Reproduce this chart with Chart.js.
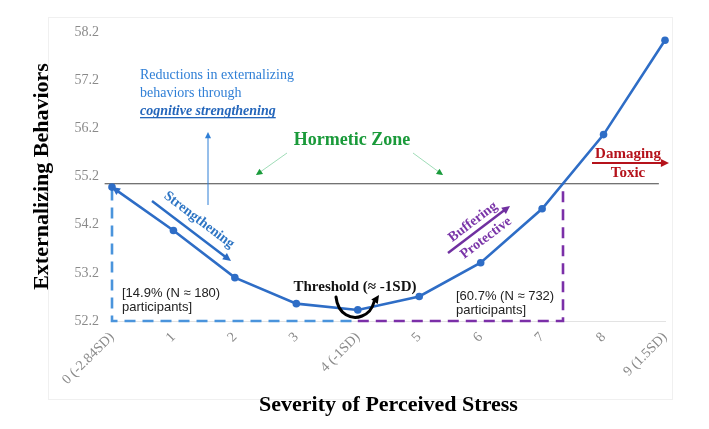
<!DOCTYPE html>
<html>
<head>
<meta charset="utf-8">
<script src="https://cdn.jsdelivr.net/npm/chart.js@4.4.1/dist/chart.umd.min.js"></script>
<style>
  html, body { margin: 0; padding: 0; background: #fff; }
  #wrap { width: 709px; height: 429px; position: relative; }
</style>
</head>
<body>
<div id="wrap"><canvas id="chart" width="709" height="429"></canvas></div>
<script>
// data
const xLabels = ["0 (-2.84SD)", "1", "2", "3", "4 (-1SD)", "5", "6", "7", "8", "9 (1.5SD)"];
const stressLevels = [0, 1, 2, 3, 4, 5, 6, 7, 8, 9];
const externalizing = [54.98, 54.08, 53.10, 52.56, 52.43, 52.71, 53.41, 54.53, 56.07, 58.03];
const yTicks = [52.2, 53.2, 54.2, 55.2, 56.2, 57.2, 58.2];

const hormeticLevel = 55.05;   // horizontal reference line
const hormeticLine = [-0.12, 8.9];
const thresholdX = 4;
const upperEdgeX = 7.34;

const SERIF = "'Liberation Serif', 'Times New Roman', serif";
const SANS = "'Liberation Sans', Arial, sans-serif";

function arrow(ctx, x1, y1, x2, y2, color, width, head) {
  const a = Math.atan2(y2 - y1, x2 - x1);
  ctx.save();
  ctx.strokeStyle = color;
  ctx.fillStyle = color;
  ctx.lineWidth = width;
  ctx.beginPath();
  ctx.moveTo(x1, y1);
  ctx.lineTo(x2 - Math.cos(a) * head * 0.8, y2 - Math.sin(a) * head * 0.8);
  ctx.stroke();
  ctx.beginPath();
  ctx.moveTo(x2, y2);
  ctx.lineTo(x2 - head * Math.cos(a - 0.45), y2 - head * Math.sin(a - 0.45));
  ctx.lineTo(x2 - head * Math.cos(a + 0.45), y2 - head * Math.sin(a + 0.45));
  ctx.closePath();
  ctx.fill();
  ctx.restore();
}

function rotText(ctx, txt, x, y, angle, font, color) {
  ctx.save();
  ctx.translate(x, y);
  ctx.rotate(angle);
  ctx.font = font;
  ctx.fillStyle = color;
  ctx.textAlign = "center";
  ctx.textBaseline = "middle";
  ctx.fillText(txt, 0, 0);
  ctx.restore();
}

const annotations = {
  id: "annotations",
  beforeDraw(chart) {
    const ctx = chart.ctx;
    ctx.save();
    ctx.strokeStyle = "#f0f0f0";
    ctx.lineWidth = 1;
    ctx.strokeRect(48.5, 17.5, 624, 382);
    ctx.restore();
  },
  afterDatasetsDraw(chart) {
    const ctx = chart.ctx;
    const xs = chart.scales.x, ys = chart.scales.y;

    // arrow head on first point
    const p0x = xs.getPixelForValue(stressLevels[0]), p0y = ys.getPixelForValue(externalizing[0]);
    const p1x = xs.getPixelForValue(stressLevels[1]), p1y = ys.getPixelForValue(externalizing[1]);
    arrow(ctx, p1x, p1y, p0x, p0y, "#2e6dc6", 0.1, 9);

    // reductions text
    ctx.save();
    ctx.fillStyle = "#2f7fd6";
    ctx.textBaseline = "alphabetic";
    ctx.font = "14px " + SERIF;
    ctx.fillText("Reductions in externalizing", 140, 79);
    ctx.fillText("behaviors through", 140, 97);
    ctx.fillStyle = "#2466bb";
    ctx.font = "italic bold 14px " + SERIF;
    ctx.fillText("cognitive strengthening", 140, 115);
    const w = ctx.measureText("cognitive strengthening").width;
    ctx.fillRect(140, 117, w, 1.3);
    ctx.restore();
    arrow(ctx, 208, 205, 208, 132, "#2f7fd6", 1, 7);

    // hormetic zone
    ctx.save();
    ctx.fillStyle = "#1a9a3a";
    ctx.font = "bold 18px " + SERIF;
    ctx.textAlign = "center";
    ctx.textBaseline = "middle";
    ctx.fillText("Hormetic Zone", 352, 140);
    ctx.restore();
    arrow(ctx, 287, 153, 256, 175, "#86d3a4", 0.8, 7);
    arrow(ctx, 413, 153, 443, 175, "#86d3a4", 0.8, 7);
    // heads in darker green
    arrow(ctx, 262, 171, 256, 175, "#1a9a3a", 0.1, 7);
    arrow(ctx, 437, 171, 443, 175, "#1a9a3a", 0.1, 7);

    // damaging / toxic
    ctx.save();
    ctx.fillStyle = "#b5121b";
    ctx.font = "bold 15px " + SERIF;
    ctx.textAlign = "center";
    ctx.textBaseline = "middle";
    ctx.fillText("Damaging", 628, 154);
    ctx.fillText("Toxic", 628, 173);
    ctx.restore();
    arrow(ctx, 592, 163, 669, 163, "#b5121b", 2.2, 9);

    // strengthening
    const aS = Math.atan2(60, 79);
    arrow(ctx, 152, 201, 231, 261, "#2b6cc4", 2.5, 9);
    rotText(ctx, "Strengthening", 199, 220, aS, "bold 14px " + SERIF, "#2e75c4");

    // buffering / protective
    const aB = Math.atan2(-47, 62);
    arrow(ctx, 448, 253, 510, 206, "#7030a0", 2.5, 9);
    rotText(ctx, "Buffering", 473, 222, aB, "bold 14px " + SERIF, "#7a35a8");
    rotText(ctx, "Protective", 486, 238, aB, "bold 14px " + SERIF, "#7a35a8");

    // threshold
    ctx.save();
    ctx.fillStyle = "#111";
    ctx.font = "bold 15px " + SERIF;
    ctx.textAlign = "center";
    ctx.textBaseline = "middle";
    ctx.fillText("Threshold (\u2248 -1SD)", 355, 287);
    ctx.strokeStyle = "#000";
    ctx.lineWidth = 3;
    ctx.lineCap = "round";
    ctx.beginPath();
    ctx.moveTo(336, 297);
    ctx.bezierCurveTo(338, 315, 352, 320, 362, 316);
    ctx.bezierCurveTo(370, 313, 373, 306, 374, 302);
    ctx.stroke();
    ctx.restore();
    arrow(ctx, 373, 304, 379, 295, "#000", 0.1, 9);

    // group labels
    ctx.save();
    ctx.fillStyle = "#222";
    ctx.font = "13px " + SANS;
    ctx.textBaseline = "alphabetic";
    ctx.fillText("[14.9% (N \u2248 180)", 122, 297);
    ctx.fillText("participants]", 122, 311);
    ctx.fillText("[60.7% (N \u2248 732)", 456, 300);
    ctx.fillText("participants]", 456, 314);
    ctx.restore();
  }
};

const mainPoints = stressLevels.map((x, i) => ({ x: x, y: externalizing[i] }));

new Chart(document.getElementById("chart"), {
  type: "line",
  data: {
    datasets: [
      {
        data: mainPoints,
        borderColor: "#2e6dc6",
        backgroundColor: "#2e6dc6",
        borderWidth: 2.6,
        pointRadius: 3.8,
        pointBackgroundColor: "#2e6dc6",
        pointBorderWidth: 0,
        tension: 0,
        clip: false,
        order: 0
      },
      {
        data: [{ x: hormeticLine[0], y: hormeticLevel }, { x: hormeticLine[1], y: hormeticLevel }],
        borderColor: "#444",
        borderWidth: 1.2,
        pointRadius: 0,
        clip: false,
        order: 2
      },
      {
        data: [{ x: stressLevels[0], y: externalizing[0] - 0.05 }, { x: stressLevels[0], y: yTicks[0] }, { x: thresholdX, y: yTicks[0] }],
        borderColor: "#4a94dc",
        borderWidth: 2.6,
        borderDash: [11, 7],
        pointRadius: 0,
        clip: false,
        order: 1
      },
      {
        data: [{ x: thresholdX, y: yTicks[0] }, { x: upperEdgeX, y: yTicks[0] }, { x: upperEdgeX, y: hormeticLevel }],
        borderColor: "#7b2fa8",
        borderWidth: 2.6,
        borderDash: [11, 7],
        pointRadius: 0,
        clip: false,
        order: 1
      }
    ]
  },
  options: {
    responsive: false,
    animation: false,
    layout: { padding: { top: 32, right: 44, left: 0, bottom: 0 } },
    plugins: { legend: { display: false }, tooltip: { enabled: false } },
    scales: {
      x: {
        type: "linear",
        min: 0,
        max: 9,
        grid: { display: false, drawTicks: false },
        border: { color: "#e3e3e3" },
        ticks: {
          stepSize: 1,
          minRotation: 45,
          maxRotation: 45,
          padding: 8,
          color: "#8a8a8a",
          font: { family: SERIF, size: 14 },
          callback: v => xLabels[v]
        },
        title: {
          display: true,
          text: "Severity of Perceived Stress",
          color: "#000",
          font: { family: SERIF, size: 22, weight: "bold" },
          padding: { top: 0, bottom: 10 }
        },
        afterFit: s => { s.height = 108; }
      },
      y: {
        min: yTicks[0],
        max: yTicks[yTicks.length - 1],
        grid: { display: false, drawTicks: false },
        border: { display: false },
        afterBuildTicks: s => { s.ticks = yTicks.map(v => ({ value: v })); },
        ticks: {
          padding: 13,
          color: "#8a8a8a",
          font: { family: SERIF, size: 14 },
          callback: v => v.toFixed(1)
        },
        title: {
          display: true,
          text: "Externalizing Behaviors",
          color: "#000",
          font: { family: SERIF, size: 22, weight: "bold" },
          padding: { top: 29, bottom: 0 }
        },
        afterFit: s => { s.width = 112; }
      }
    }
  },
  plugins: [annotations]
});
</script>
</body>
</html>
